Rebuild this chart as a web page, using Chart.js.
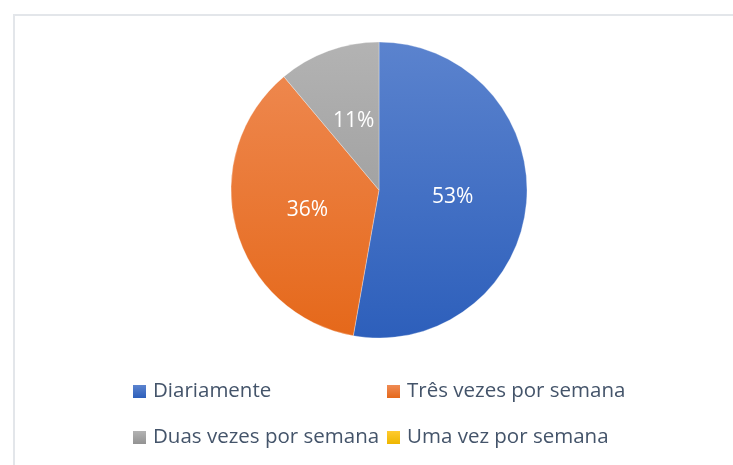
<!DOCTYPE html>
<html>
<head>
<meta charset="utf-8">
<script src="https://cdn.jsdelivr.net/npm/chart.js@4"></script>
<style>
  html, body { margin: 0; padding: 0; background: #fff; }
  #wrap { position: relative; width: 733px; height: 465px; overflow: hidden; }
  #frame { position: absolute; left: 13px; top: 14px; width: 800px; height: 500px;
           border-top: 2px solid #e3e6ea; border-left: 2px solid #e3e6ea; }
  canvas { position: absolute; left: 0; top: 0; }
  .leg { position: absolute; font-family: "Open Sans", sans-serif; font-size: 20.5px;
         color: #44546a; white-space: nowrap; line-height: 22px; }
  .leg i { display: inline-block; width: 13px; height: 13px; margin-right: 7px; vertical-align: -1px; }
</style>
</head>
<body>
<div id="wrap">
  <div id="frame"></div>
  <canvas id="pie" width="733" height="465"></canvas>
  <div id="legend"></div>
</div>
<script>
// data
const labels = ['Diariamente', 'Três vezes por semana', 'Duas vezes por semana', 'Uma vez por semana'];
const counts = [19, 13, 4, 0];
// gradient stops (top, bottom) per slice
const topColors = ['#5b83ce', '#ef8b54', '#b3b3b3', '#ffcb2e'];
const bottomColors = ['#2d5fbb', '#e5681a', '#929292', '#eeb600'];

const total = counts.reduce((s, v) => s + v, 0);

function sliceFill(ctx) {
  const chart = ctx.chart;
  const i = ctx.dataIndex;
  const area = chart.chartArea;
  if (!area) return topColors[i];
  const g = chart.ctx.createLinearGradient(0, area.top, 0, area.bottom);
  g.addColorStop(0, topColors[i]);
  g.addColorStop(1, bottomColors[i]);
  return g;
}

// percent labels inside the slices
const pctLabels = {
  id: 'pctLabels',
  afterDatasetsDraw(chart) {
    const c = chart.ctx;
    const meta = chart.getDatasetMeta(0);
    c.save();
    c.font = '21px "Open Sans", sans-serif';
    c.fillStyle = '#ffffff';
    c.textAlign = 'center';
    c.textBaseline = 'middle';
    meta.data.forEach((arc, i) => {
      if (!counts[i]) return;
      const p = arc.tooltipPosition();
      c.fillText(Math.round(counts[i] / total * 100) + '%', p.x, p.y + 1);
    });
    c.restore();
  }
};

new Chart(document.getElementById('pie'), {
  type: 'pie',
  data: {
    labels: labels,
    datasets: [{
      data: counts,
      backgroundColor: sliceFill,
      borderColor: 'rgba(255,255,255,0.6)',
      borderWidth: 0.5,
      hoverOffset: 0
    }]
  },
  options: {
    responsive: false,
    animation: false,
    radius: 148,
    layout: { padding: { left: 231, right: 206, top: 42, bottom: 127 } },
    plugins: { legend: { display: false }, tooltip: { enabled: false } }
  },
  plugins: [pctLabels]
});

// legend, 2 columns
const legPos = [[133, 378], [387, 378], [133, 424], [387, 424]];
const legend = document.getElementById('legend');
labels.forEach((name, i) => {
  const d = document.createElement('div');
  d.className = 'leg';
  d.style.left = legPos[i][0] + 'px';
  d.style.top = legPos[i][1] + 'px';
  d.innerHTML = `<i style="background:linear-gradient(${topColors[i]},${bottomColors[i]})"></i>${name}`;
  legend.appendChild(d);
});
</script>
</body>
</html>
